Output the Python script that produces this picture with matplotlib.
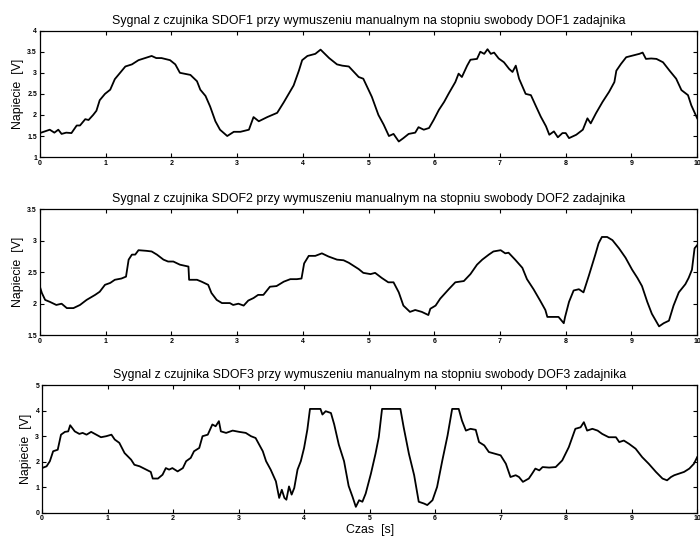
import numpy as np
import matplotlib
matplotlib.use("Agg")
import matplotlib.pyplot as plt

plt.rcParams['font.family'] = ['Liberation Sans', 'DejaVu Sans']

# (czas [s], napiecie [V])
sdof1 = [(0, 1.57), (0.15, 1.65), (0.22, 1.58), (0.28, 1.65), (0.33, 1.55), (0.40, 1.58),
         (0.48, 1.57), (0.56, 1.75), (0.61, 1.75), (0.69, 1.9), (0.74, 1.88), (0.81, 2.0),
         (0.86, 2.1), (0.91, 2.35), (0.99, 2.5), (1.07, 2.6), (1.14, 2.85), (1.22, 3.0),
         (1.30, 3.15), (1.40, 3.2), (1.50, 3.3), (1.60, 3.35), (1.70, 3.4), (1.77, 3.35),
         (1.85, 3.35), (1.98, 3.3), (2.06, 3.2), (2.13, 3.0), (2.29, 2.95), (2.39, 2.8),
         (2.44, 2.6), (2.52, 2.45), (2.59, 2.2), (2.67, 1.85), (2.74, 1.65), (2.85, 1.5),
         (2.95, 1.6), (3.05, 1.6), (3.18, 1.65), (3.25, 1.95), (3.33, 1.85), (3.46, 1.95),
         (3.61, 2.05), (3.71, 2.3), (3.86, 2.7), (3.94, 3.05), (3.99, 3.3), (4.07, 3.4),
         (4.19, 3.45), (4.27, 3.55), (4.40, 3.35), (4.52, 3.2), (4.60, 3.17), (4.70, 3.15),
         (4.85, 2.9), (4.92, 2.86), (5.05, 2.43), (5.15, 2.0), (5.23, 1.77), (5.31, 1.5),
         (5.38, 1.55), (5.46, 1.37), (5.53, 1.45), (5.61, 1.55), (5.71, 1.58), (5.76, 1.71),
         (5.84, 1.65), (5.92, 1.69), (5.99, 1.88), (6.07, 2.12), (6.15, 2.31), (6.22, 2.51),
         (6.32, 2.78), (6.37, 2.98), (6.42, 2.9), (6.50, 3.17), (6.55, 3.31), (6.65, 3.33),
         (6.70, 3.5), (6.76, 3.45), (6.81, 3.56), (6.86, 3.45), (6.91, 3.48), (6.98, 3.34),
         (7.06, 3.25), (7.14, 3.09), (7.19, 3.02), (7.24, 3.17), (7.29, 2.86), (7.39, 2.5),
         (7.47, 2.47), (7.54, 2.23), (7.62, 1.96), (7.70, 1.73), (7.75, 1.53), (7.82, 1.61),
         (7.88, 1.47), (7.95, 1.57), (8.0, 1.57), (8.05, 1.45), (8.16, 1.53), (8.26, 1.65),
         (8.33, 1.92), (8.38, 1.8), (8.46, 2.04), (8.56, 2.31), (8.66, 2.55), (8.74, 2.78),
         (8.77, 3.05), (8.84, 3.21), (8.92, 3.37), (9.02, 3.41), (9.12, 3.45), (9.17, 3.48),
         (9.22, 3.33), (9.30, 3.34), (9.38, 3.33), (9.48, 3.25), (9.58, 3.05), (9.68, 2.86),
         (9.76, 2.59), (9.86, 2.47), (9.91, 2.23), (10.0, 1.92)]

sdof2 = [(0, 2.27), (0.03, 2.17), (0.08, 2.06), (0.15, 2.03), (0.25, 1.98), (0.33, 2.0),
         (0.41, 1.93), (0.51, 1.93), (0.61, 1.98), (0.71, 2.06), (0.84, 2.14), (0.91, 2.19),
         (0.99, 2.3), (1.07, 2.33), (1.14, 2.38), (1.24, 2.4), (1.31, 2.43), (1.35, 2.7),
         (1.40, 2.78), (1.45, 2.78), (1.50, 2.85), (1.62, 2.84), (1.70, 2.83), (1.78, 2.78),
         (1.88, 2.7), (1.95, 2.67), (2.03, 2.67), (2.13, 2.62), (2.26, 2.59), (2.27, 2.38),
         (2.39, 2.38), (2.46, 2.35), (2.56, 2.3), (2.61, 2.17), (2.69, 2.06), (2.77, 2.01),
         (2.89, 2.01), (2.94, 1.98), (3.02, 2.0), (3.10, 1.97), (3.17, 2.05), (3.25, 2.09),
         (3.32, 2.14), (3.40, 2.14), (3.50, 2.27), (3.60, 2.28), (3.71, 2.35), (3.81, 2.39),
         (3.91, 2.39), (3.98, 2.4), (4.02, 2.64), (4.09, 2.76), (4.19, 2.76), (4.29, 2.8),
         (4.39, 2.75), (4.52, 2.7), (4.62, 2.69), (4.70, 2.65), (4.85, 2.55), (4.92, 2.49),
         (5.03, 2.47), (5.10, 2.49), (5.20, 2.41), (5.30, 2.34), (5.38, 2.34), (5.46, 2.18),
         (5.53, 1.97), (5.63, 1.87), (5.71, 1.9), (5.81, 1.87), (5.91, 1.82), (5.94, 1.92),
         (6.02, 1.97), (6.09, 2.08), (6.22, 2.23), (6.32, 2.34), (6.45, 2.36), (6.55, 2.47),
         (6.65, 2.62), (6.73, 2.7), (6.83, 2.78), (6.90, 2.83), (7.01, 2.85), (7.08, 2.8),
         (7.13, 2.81), (7.23, 2.7), (7.34, 2.57), (7.41, 2.39), (7.51, 2.23), (7.61, 2.05),
         (7.69, 1.9), (7.72, 1.79), (7.82, 1.79), (7.89, 1.79), (7.97, 1.69), (7.99, 1.79),
         (8.05, 2.03), (8.12, 2.21), (8.20, 2.23), (8.27, 2.18), (8.35, 2.44), (8.45, 2.78),
         (8.50, 2.96), (8.55, 3.06), (8.63, 3.06), (8.71, 3.01), (8.81, 2.88), (8.91, 2.73),
         (9.01, 2.54), (9.09, 2.41), (9.16, 2.28), (9.24, 2.03), (9.31, 1.84), (9.42, 1.64),
         (9.49, 1.69), (9.57, 1.73), (9.64, 1.97), (9.72, 2.18), (9.82, 2.31), (9.87, 2.41),
         (9.92, 2.54), (9.96, 2.88), (10.0, 2.93)]

sdof3 = [(0, 1.75), (0.07, 1.82), (0.12, 2.02), (0.17, 2.41), (0.24, 2.47), (0.29, 3.06),
         (0.35, 3.17), (0.40, 3.19), (0.43, 3.43), (0.50, 3.19), (0.57, 3.09), (0.62, 3.13),
         (0.68, 3.06), (0.75, 3.17), (0.83, 3.06), (0.90, 2.96), (0.98, 3.0), (1.06, 3.06),
         (1.11, 2.87), (1.18, 2.74), (1.26, 2.34), (1.36, 2.08), (1.41, 1.88), (1.49, 1.82),
         (1.59, 1.69), (1.66, 1.6), (1.69, 1.34), (1.77, 1.34), (1.84, 1.49), (1.89, 1.75),
         (1.94, 1.69), (1.99, 1.75), (2.07, 1.62), (2.15, 1.75), (2.20, 2.02), (2.27, 2.15),
         (2.32, 2.41), (2.40, 2.54), (2.45, 3.0), (2.53, 3.06), (2.60, 3.46), (2.65, 3.39),
         (2.70, 3.59), (2.73, 3.19), (2.81, 3.13), (2.91, 3.22), (3.01, 3.17), (3.11, 3.13),
         (3.19, 3.0), (3.26, 2.93), (3.37, 2.41), (3.42, 2.02), (3.49, 1.69), (3.57, 1.23),
         (3.62, 0.58), (3.66, 0.9), (3.70, 0.58), (3.73, 0.51), (3.77, 1.03), (3.81, 0.71),
         (3.85, 0.97), (3.90, 1.69), (3.95, 2.02), (4.0, 2.54), (4.05, 3.26), (4.09, 4.07),
         (4.25, 4.07), (4.28, 3.85), (4.33, 3.98), (4.41, 3.91), (4.46, 3.46), (4.53, 2.67),
         (4.61, 2.02), (4.68, 1.05), (4.74, 0.62), (4.79, 0.23), (4.84, 0.49), (4.89, 0.43),
         (4.94, 0.75), (5.02, 1.53), (5.09, 2.31), (5.14, 2.96), (5.19, 4.07), (5.47, 4.07),
         (5.52, 3.35), (5.60, 2.31), (5.68, 1.47), (5.75, 0.43), (5.83, 0.36), (5.88, 0.3),
         (5.96, 0.49), (6.03, 1.01), (6.11, 2.05), (6.19, 3.03), (6.26, 4.07), (6.36, 4.07),
         (6.41, 3.61), (6.47, 3.22), (6.54, 3.29), (6.62, 3.25), (6.67, 2.77), (6.75, 2.64),
         (6.82, 2.38), (6.92, 2.31), (7.0, 2.25), (7.08, 1.92), (7.15, 1.4), (7.23, 1.47),
         (7.28, 1.4), (7.34, 1.21), (7.43, 1.34), (7.48, 1.53), (7.53, 1.73), (7.59, 1.66),
         (7.64, 1.79), (7.74, 1.77), (7.84, 1.79), (7.94, 2.05), (8.04, 2.57), (8.14, 3.29),
         (8.22, 3.35), (8.27, 3.55), (8.32, 3.22), (8.40, 3.29), (8.48, 3.22), (8.55, 3.09),
         (8.65, 2.96), (8.76, 2.96), (8.81, 2.77), (8.88, 2.83), (8.96, 2.7), (9.06, 2.51),
         (9.16, 2.18), (9.26, 1.92), (9.37, 1.6), (9.47, 1.34), (9.54, 1.27), (9.60, 1.4),
         (9.65, 1.47), (9.72, 1.53), (9.80, 1.6), (9.88, 1.73), (9.95, 1.92), (10.0, 2.18)]

titles = ["Sygnal z czujnika SDOF1 przy wymuszeniu manualnym na stopniu swobody DOF1 zadajnika",
          "Sygnal z czujnika SDOF2 przy wymuszeniu manualnym na stopniu swobody DOF2 zadajnika",
          "Sygnal z czujnika SDOF3 przy wymuszeniu manualnym na stopniu swobody DOF3 zadajnika"]
ylims = [(1, 4), (1.5, 3.5), (0, 5)]
yticks = [[1, 1.5, 2, 2.5, 3, 3.5, 4], [1.5, 2, 2.5, 3, 3.5], [0, 1, 2, 3, 4, 5]]
xticks = list(range(0, 11))

fig = plt.figure(figsize=(7, 5.38), dpi=100)
rects = [[0.057, 0.708, 0.939, 0.235],
         [0.057, 0.377, 0.939, 0.234],
         [0.060, 0.047, 0.936, 0.237]]

for i, data in enumerate([sdof1, sdof2, sdof3]):
    ax = fig.add_axes(rects[i])
    arr = np.array(data)
    ax.plot(arr[:, 0], arr[:, 1], color='black', lw=1.3)
    ax.set_xlim(0, 10)
    ax.set_ylim(*ylims[i])
    ax.set_xticks(xticks)
    ax.set_yticks(yticks[i])
    ax.set_xticklabels([str(x) for x in xticks], fontsize=5, fontweight='bold')
    ax.set_yticklabels([f"{y:g}" for y in yticks[i]], fontsize=5, fontweight='bold')
    ax.tick_params(direction='in', top=True, right=True, length=3, width=0.8, pad=2)
    for s in ax.spines.values():
        s.set_linewidth(0.9)
    ax.set_title(titles[i], fontsize=8.9, pad=5)
    ax.set_ylabel("Napiecie  [V]", fontsize=8.9, labelpad=2)
    if i == 2:
        ax.set_xlabel("Czas  [s]", fontsize=8.9, labelpad=1)

fig.savefig("out.png", dpi=100)
